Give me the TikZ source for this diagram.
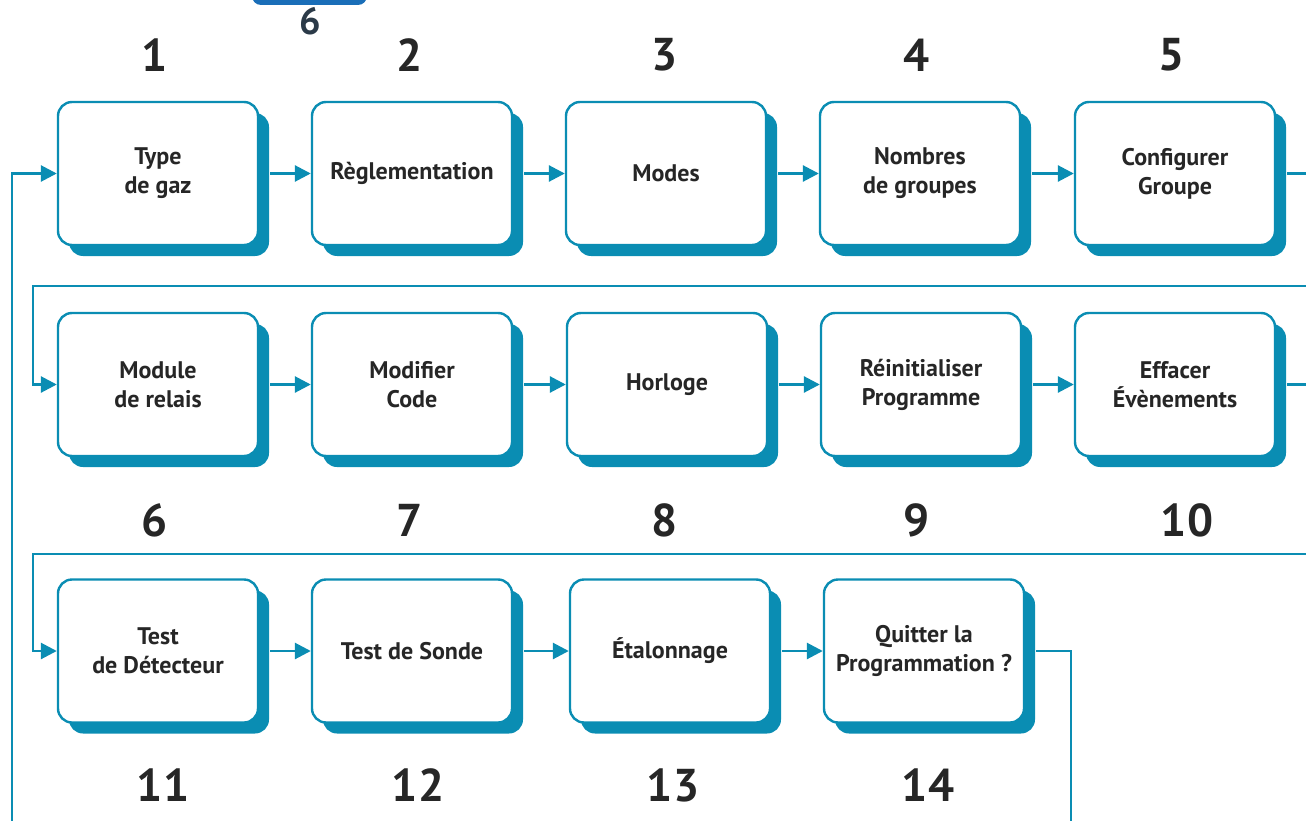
\documentclass[tikz,border=0pt]{standalone}
\usepackage{fontspec}
\setmainfont{PT Sans}
\usetikzlibrary{arrows.meta,shadows}
\definecolor{flow}{HTML}{0A8DB3}
\definecolor{tabblue}{HTML}{1A6EB8}
\definecolor{ink}{HTML}{262626}
\definecolor{tabink}{HTML}{2B3A48}
\begin{document}
\begin{tikzpicture}[x=1pt,y=-1pt,
  stepbox/.style={rectangle, rounded corners=14pt, draw=flow, line width=2.4pt,
    fill=white, minimum width=200pt, minimum height=143pt, align=center,
    font=\fontsize{24}{29}\selectfont\bfseries, text=ink,
    drop shadow={shadow xshift=11pt, shadow yshift=-11pt, fill=flow, opacity=1}},
  num/.style={font=\fontsize{46}{46}\selectfont\bfseries, text=ink},
  link/.style={draw=flow, line width=2.8pt},
  flowarrow/.style={link, -{Triangle[length=16pt,width=16pt]}}]
\useasboundingbox (0,0) rectangle (1306,821);

% header tab
\fill[tabblue, rounded corners=9pt] (252,-20) rectangle (367,5);
\node[font=\fontsize{38}{38}\selectfont\bfseries, text=tabink] (tab) at (310,21) {6};

% row 1
\node[stepbox] (b1) at (158,173.5) {Type\\de gaz};
\node[stepbox] (b2) at (412,173.5) {Règlementation};
\node[stepbox] (b3) at (666,173.5) {Modes};
\node[stepbox] (b4) at (920,173.5) {Nombres\\de groupes};
\node[stepbox] (b5) at (1175,173.5) {Configurer\\Groupe};
\node[num] (n1) at (155,55) {1};
\node[num] (n2) at (410,55) {2};
\node[num] (n3) at (665,55) {3};
\node[num] (n4) at (917,55) {4};
\node[num] (n5) at (1172,55) {5};

% row 2
\node[stepbox] (b6) at (158,384.5) {Module\\de relais};
\node[stepbox] (b7) at (412,384.5) {Modifier\\Code};
\node[stepbox] (b8) at (667,384.5) {Horloge};
\node[stepbox] (b9) at (921,384.5) {Réinitialiser\\Programme};
\node[stepbox] (b10) at (1175,384.5) {Effacer\\Évènements};
\node[num] (n6) at (155,520) {6};
\node[num] (n7) at (410,520) {7};
\node[num] (n8) at (665,520) {8};
\node[num] (n9) at (917,520) {9};
\node[num] (n10) at (1187,520) {10};

% row 3
\node[stepbox] (b11) at (158,651) {Test\\de Détecteur};
\node[stepbox] (b12) at (412,651) {Test de Sonde};
\node[stepbox] (b13) at (670,651) {Étalonnage};
\node[stepbox] (b14) at (924,651) {Quitter la\\Programmation ?};
\node[num] (n11) at (163,785) {11};
\node[num] (n12) at (418,785) {12};
\node[num] (n13) at (673,785) {13};
\node[num] (n14) at (928,785) {14};

% loop points at the picture's edges
\coordinate (loopin) at (12,821);
\coordinate (edge) at (1306,0);
\coordinate (ret1) at (1306,286);
\coordinate (turn1) at (33,286);
\coordinate (ret2) at (1306,554);
\coordinate (turn2) at (33,554);
\coordinate (exitdown) at (1071,821);

% connectors
\draw[flowarrow] (loopin) |- (b1.west);
\draw[flowarrow] ([xshift=11pt]b1.east) -- (b2.west);
\draw[flowarrow] ([xshift=11pt]b2.east) -- (b3.west);
\draw[flowarrow] ([xshift=11pt]b3.east) -- (b4.west);
\draw[flowarrow] ([xshift=11pt]b4.east) -- (b5.west);
\draw[link] ([xshift=11pt]b5.east) -- (b5.east -| edge);

\draw[flowarrow] (ret1) -- (turn1) |- (b6.west);
\draw[flowarrow] ([xshift=11pt]b6.east) -- (b7.west);
\draw[flowarrow] ([xshift=11pt]b7.east) -- (b8.west);
\draw[flowarrow] ([xshift=11pt]b8.east) -- (b9.west);
\draw[flowarrow] ([xshift=11pt]b9.east) -- (b10.west);
\draw[link] ([xshift=11pt]b10.east) -- (b10.east -| edge);

\draw[flowarrow] (ret2) -- (turn2) |- (b11.west);
\draw[flowarrow] ([xshift=11pt]b11.east) -- (b12.west);
\draw[flowarrow] ([xshift=11pt]b12.east) -- (b13.west);
\draw[flowarrow] ([xshift=11pt]b13.east) -- (b14.west);
\draw[link] ([xshift=11pt]b14.east) -| (exitdown);
\end{tikzpicture}
\end{document}
